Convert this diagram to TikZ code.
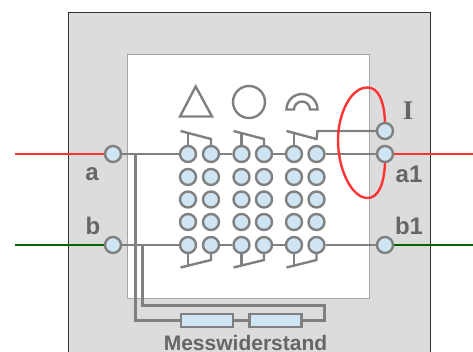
\documentclass[tikz,border=0pt]{standalone}
\usepackage{fontspec}
\setmainfont{Liberation Sans}
\newfontfamily\serifbold{Liberation Serif}
\usepackage{tikz}
\usetikzlibrary{positioning}
\definecolor{wiregray}{HTML}{808080}
\definecolor{contactblue}{HTML}{CFE5F3}
\definecolor{textgray}{HTML}{666666}
\definecolor{panelgray}{HTML}{DCDCDC}
\definecolor{linered}{HTML}{FF3333}
\definecolor{linegreen}{HTML}{006400}
\tikzstyle{contact} = [circle, draw=wiregray, line width=2.4pt, fill=contactblue, inner sep=0pt, minimum size=16pt]
\tikzstyle{resistor} = [rectangle, draw=wiregray, line width=2.4pt, fill=contactblue, inner sep=0pt, minimum width=52pt, minimum height=13pt]
\tikzstyle{wire} = [draw=wiregray, line width=2.4pt]
\tikzstyle{lbl} = [text=textgray, font=\fontsize{24}{24}\selectfont\bfseries, inner sep=0pt]

\begin{document}
\begin{tikzpicture}[x=1pt,y=-1pt]
\useasboundingbox (0,0) rectangle (473,352);

% Panels
\fill[panelgray] (68,12) rectangle (430,352);
\draw[black!80, line width=0.8pt] (68,352) -- (68,12) -- (430,12) -- (430,352);
\draw[fill=white, draw=black!35, line width=1pt] (127.5,55) rectangle (369.5,298);

% Terminals
\node[contact] (a) at (113,154) {};
\node[contact] (b) at (113,245) {};
\node[contact] (i) at (385,131) {};
\node[contact] (a1) at (385,154) {};
\node[contact] (b1) at (385,245) {};

% Contact rows
\node[contact] (r1c1) at (188,154) {}; \node[contact] (r1c2) at (211,154) {};
\node[contact] (r1c3) at (241.5,154) {}; \node[contact] (r1c4) at (264,154) {};
\node[contact] (r1c5) at (294,154) {}; \node[contact] (r1c6) at (316.5,154) {};

\node[contact] (r2c1) at (188,177) {}; \node[contact] (r2c2) at (211,177) {};
\node[contact] (r2c3) at (241.5,177) {}; \node[contact] (r2c4) at (264,177) {};
\node[contact] (r2c5) at (294,177) {}; \node[contact] (r2c6) at (316.5,177) {};

\node[contact] (r3c1) at (188,199.5) {}; \node[contact] (r3c2) at (211,199.5) {};
\node[contact] (r3c3) at (241.5,199.5) {}; \node[contact] (r3c4) at (264,199.5) {};
\node[contact] (r3c5) at (294,199.5) {}; \node[contact] (r3c6) at (316.5,199.5) {};

\node[contact] (r4c1) at (188,222) {}; \node[contact] (r4c2) at (211,222) {};
\node[contact] (r4c3) at (241.5,222) {}; \node[contact] (r4c4) at (264,222) {};
\node[contact] (r4c5) at (294,222) {}; \node[contact] (r4c6) at (316.5,222) {};

\node[contact] (r5c1) at (188,245) {}; \node[contact] (r5c2) at (211,245) {};
\node[contact] (r5c3) at (241.5,245) {}; \node[contact] (r5c4) at (264,245) {};
\node[contact] (r5c5) at (294,245) {}; \node[contact] (r5c6) at (316.5,245) {};

% Resistors
\node[resistor] (res1) at (207,320.5) {};
\node[resistor] (res2) at (275.5,320.5) {};

% Symbols
\draw[wire, line join=miter] (195.7,86.5) -- (212,116.5) -- (180,116.5) -- cycle;
\draw[wire] (249,102) circle (16);
\draw[wire] (286.5,109.5) arc (180:360:15.5) -- (310,109.5) arc (360:180:8) -- cycle;

% Labels
\node[lbl] (la) at (92,174) {a};
\node[lbl] (lb) at (93,226) {b};
\node[lbl] (la1) at (409,174) {a1};
\node[lbl] (lb1) at (409,226) {b1};
\node[text=textgray, font=\fontsize{27}{27}\selectfont\serifbold\bfseries, inner sep=0pt] (li) at (408,111) {I};
\node[text=textgray, font=\fontsize{21}{21}\selectfont\bfseries, inner sep=0pt] (lres) at (245.5,342.5) {Messwiderstand};

% Outer lines
\coordinate (ared) at (15,154);
\coordinate (bgreen) at (15,245);
\coordinate (a1red) at (473,154);
\coordinate (b1green) at (473,245);
\draw[linered, line width=2.4pt] (ared) -- (a);
\draw[linered, line width=2.4pt] (a1) -- (a1red);
\draw[linegreen, line width=2.4pt] (bgreen) -- (b);
\draw[linegreen, line width=2.4pt] (b1) -- (b1green);

% Top row wires
\draw[wire] (a) -- (r1c1);
\draw[wire] (r1c2) -- (r1c3);
\draw[wire] (r1c4) -- (r1c5);
\draw[wire] (r1c6) -- (a1);

% Bottom row wires
\draw[wire] (b) -- (r5c1);
\draw[wire] (r5c2) -- (r5c3);
\draw[wire] (r5c4) -- (r5c5);
\draw[wire] (r5c6) -- (b1);

% Top switches
\coordinate (t1) at (180.5,131);
\coordinate (t2) at (211,139);
\coordinate (t3) at (233.5,131);
\coordinate (t4) at (264,139);
\coordinate (t5) at (286.5,131);
\coordinate (t6) at (316.5,139);
\coordinate (t7) at (317.5,131);
\draw[wire] (t1) -- (t2) -- (r1c2);
\draw[wire] (t3) -- (t4) -- (r1c4);
\draw[wire] (t5) -- (t6) -- (t7) -- (i);
\draw[wire] (r1c1) -- (r1c1 |- 0,133);
\draw[wire] (r1c3) -- (r1c3 |- 0,133);
\draw[wire] (r1c5) -- (r1c5 |- 0,133);

% Bottom switches
\coordinate (u1) at (180.5,267.5);
\coordinate (u2) at (211,260);
\coordinate (u3) at (233.5,267.5);
\coordinate (u4) at (264,260);
\coordinate (u5) at (286.5,267.5);
\coordinate (u6) at (316.5,260);
\draw[wire] (u1) -- (u2) -- (r5c2);
\draw[wire] (u3) -- (u4) -- (r5c4);
\draw[wire] (u5) -- (u6) -- (r5c6);
\draw[wire] (r5c1) -- (r5c1 |- 0,266);
\draw[wire] (r5c3) -- (r5c3 |- 0,266);
\draw[wire] (r5c5) -- (r5c5 |- 0,266);

% Resistor wires
\coordinate (tapa) at (135.5,154);
\coordinate (tapb) at (142.5,245);
\coordinate (loop) at (324.5,305.5);
\draw[wire] (tapa) |- (res1);
\draw[wire] (res1) -- (res2);
\draw[wire] (tapb) |- (loop) |- (res2);

% Red loop
\draw[linered, line width=2.4pt] (i.north) .. controls (384,100) and (378,87.5) .. (367.5,87.5)
  .. controls (350,87.5) and (338,115) .. (338,140)
  .. controls (338,170) and (352,198) .. (367.5,198)
  .. controls (378,198) and (384,185) .. (a1.south);

\end{tikzpicture}
\end{document}
